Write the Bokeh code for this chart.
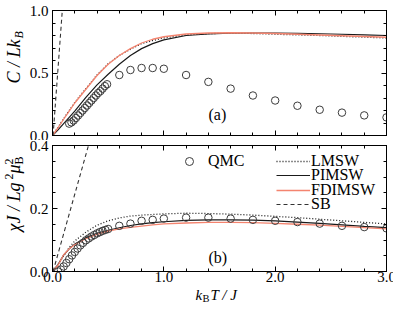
import math
from bokeh.plotting import figure
from bokeh.models import (LinearAxis, FixedTicker, Range1d, Label, Legend,
                          LegendItem, PrintfTickFormatter)
from bokeh.layouts import column, row
from bokeh.embed import file_html
from bokeh.resources import INLINE

FONT = "Liberation Serif"

# ---------------- data ----------------
T_curve = [0, 0.05, 0.1, 0.15, 0.2, 0.3, 0.4, 0.5, 0.6, 0.7, 0.8, 0.9, 1.0,
           1.2, 1.4, 1.6, 1.8, 2.0, 2.2, 2.4, 2.6, 2.8, 3.0]

# (a) specific heat
C_LMSW = [0, 0.065, 0.135, 0.2, 0.265, 0.375, 0.485, 0.575, 0.64, 0.69, 0.735,
          0.76, 0.78, 0.805, 0.815, 0.818, 0.816, 0.81, 0.805, 0.8, 0.793, 0.787, 0.78]
C_PIMSW = [0, 0.045, 0.095, 0.145, 0.195, 0.305, 0.405, 0.49, 0.57, 0.64, 0.695,
           0.735, 0.765, 0.8, 0.812, 0.818, 0.82, 0.82, 0.818, 0.814, 0.81, 0.805, 0.8]
C_FDIMSW = [0, 0.062, 0.13, 0.195, 0.26, 0.37, 0.48, 0.57, 0.64, 0.695, 0.74,
            0.77, 0.79, 0.812, 0.82, 0.822, 0.82, 0.816, 0.81, 0.804, 0.798, 0.792, 0.786]
T_SB_C = [0.005, 0.088]
C_SB = [0.0, 1.0]

T_QMC_C = [0.15, 0.17, 0.19, 0.21, 0.23, 0.25, 0.27, 0.29, 0.31, 0.33, 0.35, 0.37,
           0.39, 0.41, 0.43, 0.45, 0.47, 0.49,
           0.6, 0.7, 0.8, 0.9, 1.0, 1.2, 1.4, 1.6, 1.8, 2.0, 2.2, 2.4, 2.6, 2.8, 3.0]
C_QMC = [0.095, 0.105, 0.12, 0.14, 0.16, 0.18, 0.2, 0.22, 0.24, 0.26, 0.28, 0.3,
         0.32, 0.34, 0.355, 0.375, 0.395, 0.41,
         0.484, 0.524, 0.54, 0.54, 0.534, 0.484, 0.429, 0.375, 0.32, 0.28, 0.238,
         0.206, 0.183, 0.161, 0.145]

# (b) susceptibility
X_LMSW = [0, 0.022, 0.05, 0.076, 0.097, 0.125, 0.147, 0.161, 0.17, 0.176, 0.179,
          0.181, 0.183, 0.185, 0.184, 0.182, 0.179, 0.175, 0.171, 0.166, 0.161, 0.156, 0.151]
X_PIMSW = [0, 0.022, 0.052, 0.072, 0.087, 0.107, 0.121, 0.131, 0.139, 0.146, 0.151,
           0.155, 0.158, 0.162, 0.164, 0.164, 0.163, 0.161, 0.157, 0.153, 0.148, 0.143, 0.139]
X_FDIMSW = [0, 0.02, 0.053, 0.072, 0.085, 0.104, 0.118, 0.128, 0.135, 0.14, 0.144,
            0.148, 0.151, 0.154, 0.156, 0.156, 0.155, 0.153, 0.15, 0.147, 0.143, 0.139, 0.135]
T_SB_X = [0.005, 0.323]
X_SB = [0.0, 0.4]

T_QMC_X = [0.05, 0.075, 0.1, 0.125, 0.15, 0.175, 0.2, 0.225, 0.25, 0.275, 0.3, 0.325,
           0.35, 0.375, 0.4, 0.425, 0.45, 0.475, 0.5,
           0.6, 0.7, 0.8, 0.9, 1.0, 1.2, 1.4, 1.6, 1.8, 2.0, 2.2, 2.4, 2.6, 2.8, 3.0]
X_QMC = [0.0, 0.006, 0.016, 0.027, 0.039, 0.051, 0.062, 0.073, 0.083, 0.091, 0.099,
         0.105, 0.111, 0.116, 0.121, 0.125, 0.129, 0.132, 0.135,
         0.145, 0.152, 0.161, 0.164, 0.168, 0.171, 0.171, 0.168, 0.164, 0.161, 0.157,
         0.152, 0.145, 0.141, 0.137]

X_TICKS = [0.0, 1.0, 2.0, 3.0]
X_MINOR = [i * 0.2 for i in range(16)]
YA_TICKS = [0.0, 0.5, 1.0]
YA_MINOR = [i * 0.1 for i in range(11)]
YB_TICKS = [0.0, 0.2, 0.4]
YB_MINOR = [i * 0.05 for i in range(9)]

RED = "#f4846f"
DARK = "#1a1a1a"
CIRC = "#3c3c3c"

LEFT_W = 26        # width of the strip holding the rotated y titles
BORDER_L = 23
BORDER_R = 10
FRAME_W = 334
TOP_H = 284        # height of the two panels together
XT_H = 24          # height of the strip holding the x title
TOTAL_W = LEFT_W + BORDER_L + FRAME_W + BORDER_R


def style_axis(ax, ticks, minor, show_labels, standoff=5):
    ax.ticker = FixedTicker(ticks=ticks, minor_ticks=minor)
    ax.formatter = PrintfTickFormatter(format="%.1f")
    ax.major_tick_in = 5
    ax.major_tick_out = 0
    ax.minor_tick_in = 3
    ax.minor_tick_out = 0
    ax.axis_line_color = "black"
    ax.major_tick_line_color = "black"
    ax.minor_tick_line_color = "black"
    ax.major_label_text_font = FONT
    if show_labels:
        ax.major_label_text_color = "black"
        ax.major_label_text_font_size = "15px"
        ax.major_label_standoff = standoff
    else:
        ax.major_label_text_color = None
        ax.major_label_text_font_size = "1px"
        ax.major_label_standoff = 0


def make_fig(yr, fh, top, bottom, yticks, yminor, show_x):
    p = figure(frame_width=FRAME_W, frame_height=fh, x_range=Range1d(0, 3),
               y_range=Range1d(*yr), output_backend="svg", toolbar_location=None,
               min_border_left=BORDER_L, min_border_right=BORDER_R,
               min_border_top=top, min_border_bottom=bottom)
    p.xgrid.visible = False
    p.ygrid.visible = False
    p.outline_line_color = "black"
    p.outline_line_width = 1
    p.background_fill_color = "white"
    p.border_fill_color = "white"
    p.add_layout(LinearAxis(), "above")
    p.add_layout(LinearAxis(), "right")
    style_axis(p.below[0], X_TICKS, X_MINOR, show_x, standoff=0)
    style_axis(p.above[0], X_TICKS, X_MINOR, False)
    style_axis(p.left[0], yticks, yminor, True, standoff=4)
    style_axis(p.right[0], yticks, yminor, False)
    return p


def lab(p, x, y, text, size, style="italic", angle=0.0):
    p.add_layout(Label(x=x, y=y, x_units="screen", y_units="screen", text=text,
                       angle=angle, text_font=FONT, text_font_size=size,
                       text_font_style=style, text_align="left",
                       text_baseline="middle", text_color="black"))


def blank_fig(w, h):
    f = figure(width=w, height=h, x_range=Range1d(0, w), y_range=Range1d(0, h),
               x_axis_type=None, y_axis_type=None, output_backend="svg",
               toolbar_location=None, min_border=0)
    f.outline_line_color = None
    f.background_fill_color = "white"
    f.border_fill_color = "white"
    return f


# ---------------- panel (a) ----------------
p1 = make_fig((0, 1), 125, 10, 5, YA_TICKS, YA_MINOR, False)
p1.line(T_curve, C_LMSW, line_color=DARK, line_width=1.3, line_dash="1 2")
p1.line(T_curve, C_PIMSW, line_color=DARK, line_width=1.2)
p1.line(T_curve, C_FDIMSW, line_color=RED, line_width=1.3)
p1.line(T_SB_C, C_SB, line_color="#333333", line_width=1.1, line_dash="4 3")
p1.scatter(T_QMC_C, C_QMC, marker="circle", size=7.5, fill_color=None,
           line_color=CIRC, line_width=1)
lab(p1, 156, 21, "(a)", "16px", style="normal")

# ---------------- panel (b) ----------------
p2 = make_fig((0, 0.4), 126, 5, 13, YB_TICKS, YB_MINOR, True)
r_l = p2.line(T_curve, X_LMSW, line_color=DARK, line_width=1.3, line_dash="1 2")
r_p = p2.line(T_curve, X_PIMSW, line_color=DARK, line_width=1.2)
r_f = p2.line(T_curve, X_FDIMSW, line_color=RED, line_width=1.3)
r_s = p2.line(T_SB_X, X_SB, line_color="#333333", line_width=1.1, line_dash="4 3")
r_q = p2.scatter(T_QMC_X, X_QMC, marker="circle", size=7.5, fill_color=None,
                 line_color=CIRC, line_width=1)
lab(p2, 156, 14.5, "(b)", "16px", style="normal")


def add_leg(p, label, rend, vx, vy, gw, standoff):
    lg = Legend(items=[LegendItem(label=label, renderers=[rend])],
                location=(vx, vy), border_line_color=None,
                background_fill_alpha=0, padding=0, margin=0, spacing=0,
                glyph_width=gw, glyph_height=20, label_height=20,
                label_standoff=standoff, label_text_font=FONT,
                label_text_font_size="16px", label_text_color="black")
    p.add_layout(lg, "center")


add_leg(p2, "QMC", r_q, 127, 100, 20, 9)
add_leg(p2, "LMSW", r_l, 224, 100, 34, 1)
add_leg(p2, "PIMSW", r_p, 224, 86, 34, 1)
add_leg(p2, "FDIMSW", r_f, 224, 71.5, 34, 1)
add_leg(p2, "SB", r_s, 224, 57.5, 34, 1)

# ---------------- axis titles ----------------
R = math.pi / 2
# rotated y titles (strip coordinates: x from left, y from bottom)
yt = blank_fig(LEFT_W, TOP_H)
lab(yt, 13.5, TOP_H - 83, "C / Lk", "18px", angle=R)
lab(yt, 18.5, TOP_H - 38, "B", "12px", angle=R)

lab(yt, 13.5, TOP_H - 231, "\u03c7J / Lg", "18px", angle=R)
lab(yt, 8.5, TOP_H - 179, "2", "12px", style="normal", angle=R)
lab(yt, 13.5, TOP_H - 173, "\u03bc", "18px", angle=R)
lab(yt, 18.5, TOP_H - 164, "B", "12px", style="normal", angle=R)
lab(yt, 8.5, TOP_H - 164, "2", "12px", style="normal", angle=R)

# x title strip spanning the whole width under the panels (page x coordinates)
xt = blank_fig(TOTAL_W, XT_H)
lab(xt, 195, TOP_H + XT_H - 294, "k", "15px")
lab(xt, 202, TOP_H + XT_H - 298, "B", "10.5px", style="normal")
lab(xt, 210, TOP_H + XT_H - 294, "T / J", "15px")

layout = column(row(yt, column(p1, p2)), xt)
open("out.html", "w").write(file_html(layout, INLINE))
